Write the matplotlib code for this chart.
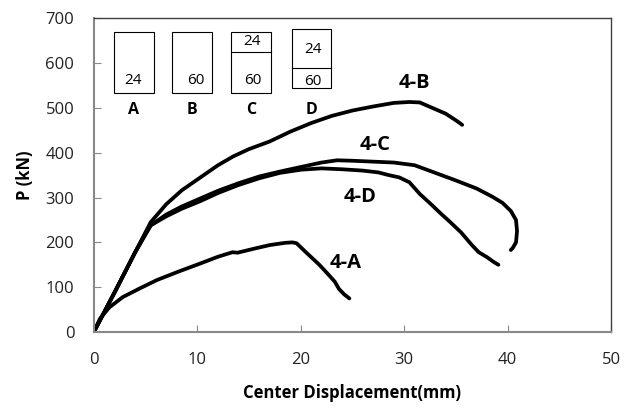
import matplotlib
matplotlib.use('Agg')
import matplotlib.pyplot as plt
from matplotlib.patches import Rectangle

plt.rcParams['font.family'] = ['Open Sans', 'DejaVu Sans']

# load-displacement curves (mm, kN)
a_x = [0, 0.6, 1.5, 2.8, 4.5, 6.1, 8.2, 10.3, 12.0, 13.4, 13.9, 15.5, 17.0, 18.5, 19.2, 19.6,
       20.5, 21.8, 22.8, 23.3, 23.7, 24.2, 24.7]
a_y = [0, 30, 55, 78, 98, 116, 135, 153, 168, 178, 177, 186, 194, 199, 200, 198,
       178, 150, 125, 112, 96, 84, 75]

b_x = [0, 2, 4, 5.5, 7, 8.5, 10, 12, 13.5, 15, 17, 19, 21, 23, 25, 27, 29, 30.5, 31.5,
       32.2, 33, 34, 35, 35.6]
b_y = [0, 88, 178, 245, 285, 316, 340, 372, 392, 408, 425, 447, 466, 482, 494, 503, 511,
       513, 512, 505, 497, 487, 472, 462]

c_x = [0, 2, 4, 5.5, 7, 8.5, 10.3, 12, 14, 16, 18, 20, 22, 23.5, 25, 27, 29, 31, 33, 35,
       37, 38.5, 39.5, 40.3, 40.8, 40.9, 40.8, 40.5, 40.3]
c_y = [0, 88, 178, 238, 262, 280, 298, 315, 332, 347, 358, 368, 378, 383, 382, 380, 378,
       372, 355, 338, 320, 302, 288, 270, 250, 225, 200, 188, 183]

d_x = [0, 2, 4, 5.5, 7, 8.5, 10.3, 12, 14, 16, 18, 20, 22, 24, 26, 27.5, 28.5, 29.5, 30.5,
       31.5, 32.5, 33.5, 34.5, 35.5, 36.5, 37.2, 38, 38.6, 39.1]
d_y = [0, 88, 178, 238, 258, 275, 292, 310, 328, 343, 355, 362, 365, 363, 360, 356, 350,
       345, 334, 308, 287, 265, 244, 222, 195, 178, 167, 157, 150]

curves = [(a_x, a_y), (b_x, b_y), (c_x, c_y), (d_x, d_y)]
curve_names = ['4-A', '4-B', '4-C', '4-D']
name_pos = [(24.3, 154), (31.0, 555), (27.2, 417), (25.7, 301)]

fig = plt.figure(figsize=(6.38, 4.12), dpi=100)
ax = fig.add_axes([0.147, 0.194, 0.811, 0.762])

for (x, y) in curves:
    ax.plot(x, y, color='black', lw=2.7, solid_joinstyle='round', solid_capstyle='round')

for name, (tx, ty) in zip(curve_names, name_pos):
    ax.text(tx, ty, name, fontsize=14.5, fontweight='bold', ha='center', va='center')

# section sketches: box edges, divider height, numbers inside, letter under
boxes = [
    ('A', 1.93, 5.8, 533, 669, None, [(3.8, 560, '24')]),
    ('B', 7.54, 11.4, 533, 669, None, [(9.9, 560, '60')]),
    ('C', 13.25, 17.1, 533, 669, 624, [(15.3, 647, '24'), (15.4, 560, '60')]),
    ('D', 19.15, 22.9, 544, 675, 588, [(21.2, 629, '24'), (21.2, 558, '60')]),
]
for letter, x0, x1, y0, y1, mid, nums in boxes:
    ax.add_patch(Rectangle((x0, y0), x1 - x0, y1 - y0, fill=False, ec='black', lw=0.8))
    if mid is not None:
        ax.plot([x0, x1], [mid, mid], color='black', lw=0.8)
    for nx, ny, s in nums:
        ax.text(nx, ny, s, fontsize=11, ha='center', va='center')
    ax.text((x0 + x1) / 2, 495, letter, fontsize=11.5, fontweight='bold', ha='center', va='center')

ax.set_xlim(0, 50)
ax.set_ylim(0, 700)
ax.set_xticks(range(0, 51, 10))
ax.set_yticks(range(0, 701, 100))
ax.tick_params(direction='in', length=5, color='#888888', labelsize=12, pad=14,
               labelcolor='#222222')
for side in ['left', 'bottom']:
    ax.spines[side].set_color('#888888')
    ax.spines[side].set_linewidth(1.5)
for side in ['top', 'right']:
    ax.spines[side].set_color('#404040')
    ax.spines[side].set_linewidth(1.0)

ax.set_xlabel('Center Displacement(mm)', fontsize=12, fontweight='bold', labelpad=12)
ax.set_ylabel('P (kN)', fontsize=12, fontweight='bold', labelpad=8)

fig.savefig('out.png', dpi=100)
